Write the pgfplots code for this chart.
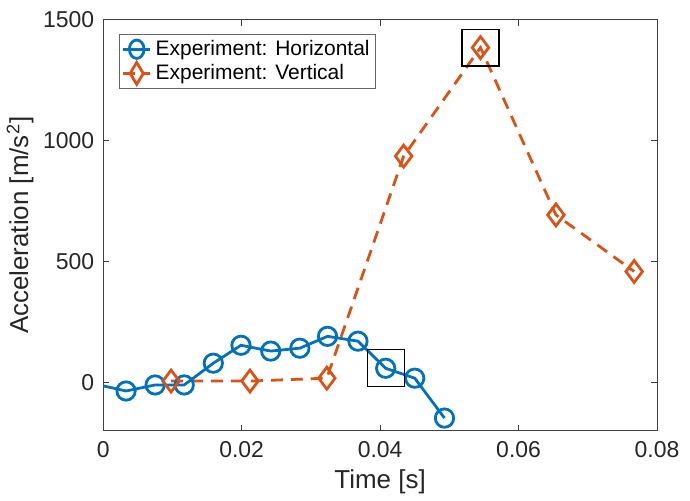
\documentclass[border=0pt]{standalone}
\usepackage{fontspec}
\setmainfont{Liberation Sans}
\usepackage{pgfplots}
\pgfplotsset{compat=1.18}
\definecolor{mblue}{HTML}{0072BD}
\definecolor{morange}{HTML}{D95319}
\definecolor{axgray}{HTML}{404040}

\begin{document}
\begin{tikzpicture}
\begin{axis}[
  width=277.5pt, height=206pt, scale only axis,
  xmin=0, xmax=0.08, ymin=-200, ymax=1500,
  scaled x ticks=false, scaled y ticks=false,
  xtick={0,0.02,0.04,0.06,0.08}, xticklabels={0,0.02,0.04,0.06,0.08},
  ytick={0,500,1000,1500}, yticklabels={0,500,1000,1500},
  tick align=inside, tick pos=both, major tick length=3pt,
  axis line style={axgray, line width=0.5pt},
  every tick/.style={axgray, line width=0.5pt},
  tick label style={font=\fontsize{11.5}{13}\selectfont, text=black!85},
  xticklabel style={yshift=-2pt},
  yticklabel style={xshift=-1pt},
  label style={font=\fontsize{13}{15}\selectfont, text=black!85},
  /pgf/number format/assume math mode=true,
  xlabel={Time [s]}, ylabel={Acceleration [m/s\textsuperscript{2}]},
  xlabel style={yshift=1pt}, ylabel style={yshift=-2pt},
  legend style={at={(0.029,0.966)}, anchor=north west, draw=black!60,
    font=\fontsize{10.5}{12}\selectfont, inner sep=1pt, row sep=-1pt,
    line width=0.4pt},
  legend image post style={xscale=0.8},
  legend cell align=left,
]
\addplot[mblue, line width=1.4pt, forget plot] coordinates {(-0.0009,-8) (0.0033,-35)};
\addplot[mblue, line width=1.4pt, mark=o, mark size=4.6pt, mark options={solid}]
 coordinates {
 (0.0033,-35) (0.0075,-10) (0.0117,-10) (0.0159,80) (0.0199,154) (0.0242,130)
 (0.0284,142) (0.0324,191) (0.0368,171) (0.0408,59) (0.0450,18) (0.0493,-147)};
\addlegendentry{Experiment: Horizontal}
\addplot[morange, line width=1.4pt, dash pattern=on 6pt off 4pt, mark=diamond, mark size=5.5pt, mark options={solid}]
 coordinates {
 (0.0098,6) (0.0212,6) (0.0323,18) (0.0434,936) (0.0545,1385) (0.0654,693) (0.0767,459)};
\addlegendentry{Experiment: Vertical}
\addplot[black, only marks, mark=square, mark size=9.25pt, line width=0.6pt, forget plot]
 coordinates {(0.0408,59) (0.0545,1385)};
\end{axis}
\path ([yshift=2.5pt]current bounding box.north) ([xshift=2pt]current bounding box.east);
\end{tikzpicture}
\end{document}
